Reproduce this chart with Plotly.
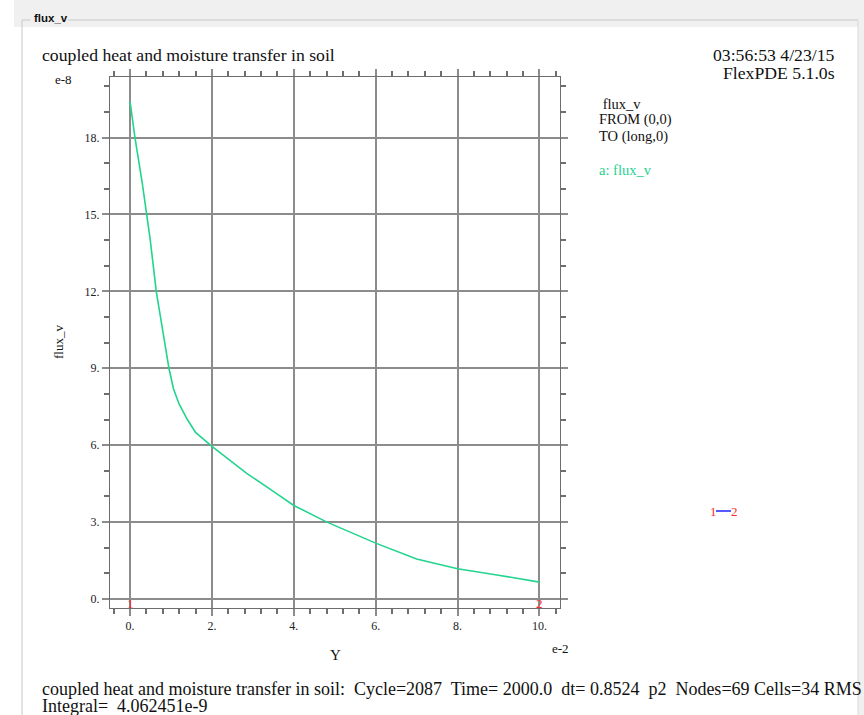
import plotly.graph_objects as go

# Data (x in units of 1e-2, y in units of 1e-8)
y_pos = [0, 0.12, 0.3, 0.49, 0.64, 0.83, 0.95, 1.06, 1.2, 1.4, 1.6, 2.0, 2.5, 2.85,
         3.5, 4.0, 4.81, 5.38, 6.0, 7.0, 8.0, 9.0, 10.0]
flux_v = [19.4, 18.0, 16.2, 14.05, 12.0, 10.15, 9.0, 8.2, 7.6, 7.0, 6.5, 5.95, 5.35, 4.9,
          4.2, 3.65, 3.0, 2.6, 2.18, 1.56, 1.18, 0.93, 0.66]
x_ticks = [0, 2, 4, 6, 8, 10]
x_ticktext = ["0.", "2.", "4.", "6.", "8.", "10."]
y_ticks = [0, 3, 6, 9, 12, 15, 18]
y_ticktext = ["0.", "3.", "6.", "9.", "12.", "15.", "18."]
end_labels = ["1", "2"]
end_x = [0, 10]
end_y = [0, 0]

W, H = 864, 715
SERIF = "Liberation Serif, Times New Roman, serif"
GREEN = "#22d48e"
GRID = "#8c8c8c"
FRAME = "#6e6e6e"

def px(x):
    return x / W

def py(y):
    return 1 - y / H

fig = go.Figure()
fig.add_trace(go.Scatter(x=y_pos, y=flux_v, mode="lines",
                         line=dict(color=GREEN, width=1.6), hoverinfo="skip",
                         showlegend=False))

axis_common = dict(
    showline=True, linecolor=FRAME, linewidth=1, mirror="ticks",
    ticks="outside", ticklen=7, tickcolor=GRID, tickwidth=1.5,
    showgrid=True, gridcolor=GRID, gridwidth=1.5, zeroline=False,
    tickfont=dict(family=SERIF, size=12, color="#222222"),
)

fig.update_layout(
    width=W, height=H,
    margin=dict(l=0, r=0, t=0, b=0),
    paper_bgcolor="white", plot_bgcolor="white",
    xaxis=dict(range=[-0.49, 10.49], domain=[px(110), px(559.5)],
               tickvals=x_ticks, ticktext=x_ticktext,
               minor=dict(dtick=0.4, tick0=0, ticks="outside", ticklen=5,
                          tickcolor=FRAME, showgrid=False),
               **axis_common),
    yaxis=dict(range=[-0.35, 20.36], domain=[py(608), py(77)],
               tickvals=y_ticks, ticktext=y_ticktext,
               minor=dict(dtick=1, tick0=0, ticks="outside", ticklen=5,
                          tickcolor=FRAME, showgrid=False),
               **axis_common),
)

# window frame decoration
shapes = [
    dict(type="rect", xref="paper", yref="paper", x0=px(14), x1=1, y0=py(0), y1=py(27),
         fillcolor="#f0f0f0", line=dict(width=0), layer="below"),
    dict(type="rect", xref="paper", yref="paper", x0=px(858), x1=1, y0=py(0), y1=py(715),
         fillcolor="#f0f0f0", line=dict(width=0), layer="below"),
    dict(type="rect", xref="paper", yref="paper", x0=px(23), x1=px(858), y0=py(27), y1=py(713),
         fillcolor="white", line=dict(width=0), layer="below"),
    dict(type="line", xref="paper", yref="paper", x0=px(22), x1=px(22), y0=py(20), y1=py(715),
         line=dict(color="#c8c8c8", width=1)),
    dict(type="line", xref="paper", yref="paper", x0=px(22), x1=px(30), y0=py(20), y1=py(20),
         line=dict(color="#c8c8c8", width=1)),
    dict(type="line", xref="paper", yref="paper", x0=px(68), x1=px(858), y0=py(20), y1=py(20),
         line=dict(color="#c8c8c8", width=1)),
    dict(type="line", xref="paper", yref="paper", x0=px(858), x1=px(858), y0=py(20), y1=py(715),
         line=dict(color="#d8d8d8", width=1)),
    # cut-line schematic
    dict(type="line", xref="paper", yref="paper", x0=px(716), x1=px(731), y0=py(511), y1=py(511),
         line=dict(color="#2020ff", width=1.5)),
]
fig.update_layout(shapes=shapes)

def ann(text, x, y, size, xanchor="left", color="#111111", family=SERIF, **kw):
    fig.add_annotation(text=text, x=px(x), y=py(y), xref="paper", yref="paper",
                       xanchor=xanchor, yanchor="middle", showarrow=False,
                       font=dict(family=family, size=size, color=color), **kw)

ann("<b>flux_v</b>", 32, 18, 11.5, family="Liberation Sans, Arial, sans-serif")
ann("coupled heat and moisture transfer in soil", 40, 55, 17.7)
ann("03:56:53 4/23/15", 837, 55, 17.7, xanchor="right")
ann("FlexPDE 5.1.0s", 837, 73, 17.7, xanchor="right")
ann("e-8", 63, 80, 13, xanchor="center")
ann("e-2", 560, 648, 13, xanchor="center")
ann("Y", 335, 655, 15, xanchor="center")
ann("flux_v", 58, 342, 13, xanchor="center", textangle=-90)
ann("&#160;flux_v", 597, 104, 14.5)
ann("FROM (0,0)", 597, 120, 14.5)
ann("TO (long,0)", 597, 136, 14.5)
ann("a: flux_v", 597, 170, 14.5, color=GREEN)
ann("1", 713, 511, 13, xanchor="center", color="#ff2a2a")
ann("2", 734, 511, 13, xanchor="center", color="#ff2a2a")
ann("coupled heat and moisture transfer in soil:&#160; Cycle=2087&#160; Time= 2000.0&#160; dt= 0.8524&#160; p2&#160; Nodes=69 Cells=34 RMS Err=",
    40, 689, 18)
ann("Integral=&#160; 4.062451e-9", 40, 706, 18)

# endpoint markers of the cut
for lab, xv, yv in zip(end_labels, end_x, end_y):
    fig.add_annotation(text=lab, x=xv, y=yv, xref="x", yref="y", showarrow=False,
                       xanchor="center", yanchor="middle", yshift=-4,
                       font=dict(family=SERIF, size=13, color="#ff2a2a"))

fig.write_html("out.html", config={"displayModeBar": False},
               post_script="document.body.style.margin='0';")
